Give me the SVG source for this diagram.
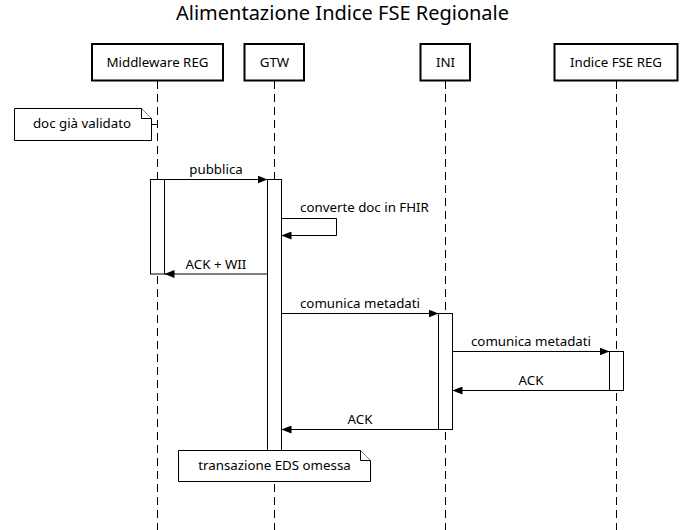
<svg xmlns="http://www.w3.org/2000/svg" width="684" height="530" viewBox="0 0 684 530">
<defs>
<style>
text{font-family:"Noto Sans","Open Sans","DejaVu Sans",sans-serif;font-size:13.3px;fill:#000}
.title{font-size:20px}
.actor{fill:#fff;stroke:#000;stroke-width:2}
.life{stroke:#000;stroke-width:1;stroke-dasharray:8,5;fill:none}
.act{fill:#fff;stroke:#000;stroke-width:1}
.msg{stroke:#000;stroke-width:1;fill:none}
.note{fill:#fff;stroke:#000;stroke-width:1}
</style>
<marker id="ah" viewBox="0 0 10 8" refX="10" refY="4" markerWidth="10" markerHeight="8" markerUnits="userSpaceOnUse" orient="auto">
<path d="M0,0 L10,4 L0,8 z" fill="#000"/>
</marker>
</defs>
<rect width="684" height="530" fill="#fff"/>
<text class="title" x="342.5" y="20" text-anchor="middle">Alimentazione Indice FSE Regionale</text>

<g id="lifelines">
<line class="life" x1="157.5" y1="81" x2="157.5" y2="530"/>
<line class="life" x1="274.5" y1="81" x2="274.5" y2="530"/>
<line class="life" x1="445.5" y1="81" x2="445.5" y2="530"/>
<line class="life" x1="616.5" y1="81" x2="616.5" y2="530"/>
</g>

<g id="middleware">
<rect class="actor" x="92" y="44" width="131" height="36.5"/>
<text x="157.5" y="66.5" text-anchor="middle">Middleware REG</text>
</g>
<g id="gtw">
<rect class="actor" x="244.5" y="44" width="59.5" height="36.5"/>
<text x="274.5" y="66.5" text-anchor="middle">GTW</text>
</g>
<g id="ini">
<rect class="actor" x="420.5" y="44" width="49.5" height="36.5"/>
<text x="445.5" y="66.5" text-anchor="middle">INI</text>
</g>
<g id="indice">
<rect class="actor" x="554.5" y="44" width="123" height="36.5"/>
<text x="616" y="66.5" text-anchor="middle">Indice FSE REG</text>
</g>

<g id="activations">
<rect class="act" x="150.5" y="179.5" width="14" height="94.5"/>
<rect class="act" x="267.5" y="179.5" width="14" height="271"/>
<rect class="act" x="438.5" y="313.5" width="14" height="116"/>
<rect class="act" x="609.5" y="351.5" width="14" height="39"/>
</g>

<g id="note-validato">
<path class="note" d="M14.5,108.5 H141.5 L151.5,118.5 V140.5 H14.5 Z"/>
<path class="note" d="M141.5,108.5 V118.5 H151.5"/>
<line class="msg" x1="151.5" y1="124.5" x2="157.5" y2="124.5"/>
<text x="82" y="127.5" text-anchor="middle">doc già validato</text>
</g>

<g id="connectors">
<line class="msg" x1="164.5" y1="179.5" x2="267.5" y2="179.5" marker-end="url(#ah)"/>
<text x="216" y="174" text-anchor="middle">pubblica</text>
<path class="msg" d="M281.5,218.5 H336.5 V235.5 H281.5" marker-end="url(#ah)"/>
<text x="300" y="212">converte doc in FHIR</text>
<line class="msg" x1="267.5" y1="274" x2="164.5" y2="274" marker-end="url(#ah)"/>
<text x="216" y="269" text-anchor="middle">ACK + WII</text>
<line class="msg" x1="281.5" y1="313.5" x2="438.5" y2="313.5" marker-end="url(#ah)"/>
<text x="360" y="307.5" text-anchor="middle">comunica metadati</text>
<line class="msg" x1="452.5" y1="351.5" x2="609.5" y2="351.5" marker-end="url(#ah)"/>
<text x="531" y="346" text-anchor="middle">comunica metadati</text>
<line class="msg" x1="609.5" y1="390.5" x2="452.5" y2="390.5" marker-end="url(#ah)"/>
<text x="531" y="384.5" text-anchor="middle">ACK</text>
<line class="msg" x1="438.5" y1="429.5" x2="281.5" y2="429.5" marker-end="url(#ah)"/>
<text x="360" y="423.5" text-anchor="middle">ACK</text>
</g>

<g id="note-eds">
<path class="note" d="M178.5,450.5 H360.5 L370.5,460.5 V481.5 H178.5 Z"/>
<path class="note" d="M360.5,450.5 V460.5 H370.5"/>
<text x="274.5" y="470" text-anchor="middle">transazione EDS omessa</text>
</g>
</svg>
